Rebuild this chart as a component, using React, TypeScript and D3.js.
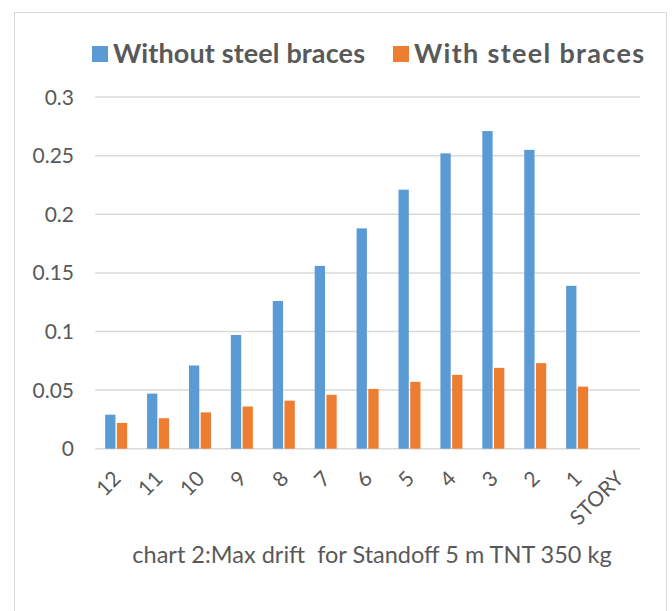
import React from "react";
import * as d3 from "d3";

const categories = ["12", "11", "10", "9", "8", "7", "6", "5", "4", "3", "2", "1", "STORY"];
const withoutBraces: (number | null)[] = [0.029, 0.047, 0.071, 0.097, 0.126, 0.156, 0.188, 0.221, 0.252, 0.271, 0.255, 0.139, null];
const withBraces: (number | null)[] = [0.022, 0.026, 0.031, 0.036, 0.041, 0.046, 0.051, 0.057, 0.063, 0.069, 0.073, 0.053, null];
const seriesNames = ["Without steel braces", "With steel braces"];
const seriesColors = ["#5b9bd5", "#ed7d31"];
const yTicks = [0, 0.05, 0.1, 0.15, 0.2, 0.25, 0.3];
const title = "chart 2:Max drift  for Standoff 5 m TNT 350 kg";

export default function App() {
  const W = 672, H = 611;
  const left = 95.2, right = 640, top = 97.1, bottom = 448.7;
  const x = d3.scaleBand<string>().domain(categories).range([left, right]).paddingInner(0).paddingOuter(0);
  const y = d3.scaleLinear().domain([0, 0.3]).range([bottom, top]);
  const step = x.bandwidth();
  const groupW = 22;
  const x1 = d3.scaleBand<number>().domain([0, 1]).range([0, groupW]).paddingInner(0.12);
  const series = [withoutBraces, withBraces];
  const txt = "#595959";
  const font = "Lato, 'Open Sans', sans-serif";
  const legendX = [92, 393];
  const legendLen = [252, 230];
  return (
    <svg width={W} height={H} style={{ position: "absolute", left: 0, top: 0, background: "#fff" }} fontFamily={font}>
      <rect x={14.5} y={12.5} width={652} height={620} fill="#fff" stroke="#d9d9d9" strokeWidth={1} />
      {/* legend */}
      {seriesNames.map((n, i) => {
        const lx = legendX[i];
        return (
          <g key={n}>
            <rect x={lx} y={46} width={16} height={16} fill={seriesColors[i]} />
            <text x={lx + 21} y={63} fontSize={27} fontWeight="bold" fill={txt} textLength={legendLen[i]} lengthAdjust="spacing">{n}</text>
          </g>
        );
      })}
      {/* gridlines */}
      {yTicks.map((t) => (
        <g key={t}>
          <line x1={left} x2={right} y1={y(t)} y2={y(t)} stroke="#d9d9d9" strokeWidth={1.5} />
          <text x={74} y={y(t)} dy="0.36em" textAnchor="end" fontSize={21} fill={txt}>{String(t)}</text>
        </g>
      ))}
      {/* bars */}
      {categories.map((c, ci) => (
        <g key={c} transform={`translate(${(x(c) as number) + (step - groupW) / 2},0)`}>
          {series.map((s, si) => {
            const v = s[ci];
            if (v == null) return null;
            return (
              <rect key={si} x={x1(si)} y={y(v)} width={x1.bandwidth()} height={bottom - y(v)} fill={seriesColors[si]} />
            );
          })}
        </g>
      ))}
      {/* x labels */}
      {categories.map((c) => {
        const cx = (x(c) as number) + step / 2;
        return (
          <text key={c} transform={`translate(${cx + 6},${480}) rotate(-45)`} textAnchor="end" fontSize={21} fill={txt}>{c}</text>
        );
      })}
      <text x={372} y={563} textAnchor="middle" fontSize={23.5} fill={txt} style={{ whiteSpace: "pre" }}>{title}</text>
    </svg>
  );
}
